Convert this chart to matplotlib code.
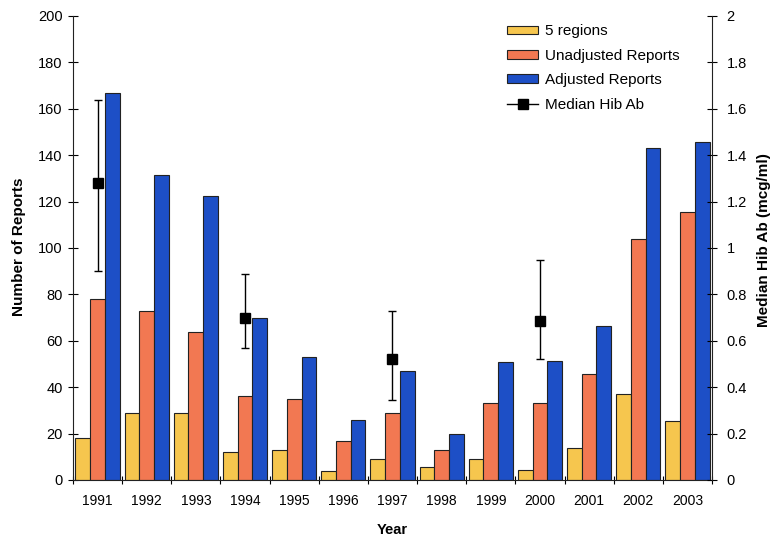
import matplotlib
matplotlib.use("Agg")
import matplotlib.pyplot as plt
import numpy as np
from matplotlib.ticker import FuncFormatter
from matplotlib.lines import Line2D

plt.rcParams['font.family'] = ['Liberation Sans', 'DejaVu Sans']

years = ["1991", "1992", "1993", "1994", "1995", "1996", "1997",
         "1998", "1999", "2000", "2001", "2002", "2003"]
five_regions = [18, 29, 29, 12, 13, 4, 9, 5.5, 9, 4.5, 14, 37, 25.5]
unadjusted = [78, 73, 64, 36, 35, 17, 29, 13, 33, 33, 45.5, 104, 115.5]
adjusted = [167, 131.5, 122.5, 70, 53, 26, 47, 20, 51, 51.5, 66.5, 143, 145.5]

hib_years = ["1991", "1994", "1997", "2000"]
hib_median = [1.28, 0.70, 0.52, 0.685]
hib_low = [0.90, 0.57, 0.345, 0.52]
hib_high = [1.64, 0.89, 0.73, 0.95]

c_yellow = "#F6C64E"
c_orange = "#F27852"
c_blue = "#1D4FC6"

fig = plt.figure(figsize=(7.73, 5.42), dpi=100)
ax = fig.add_axes([0.0944, 0.1144, 0.8267, 0.8561])

x = np.arange(len(years))
w = 0.3
ax.bar(x - w, five_regions, w, color=c_yellow, edgecolor="#222222", linewidth=0.8, label="5 regions")
ax.bar(x, unadjusted, w, color=c_orange, edgecolor="#222222", linewidth=0.8, label="Unadjusted Reports")
ax.bar(x + w, adjusted, w, color=c_blue, edgecolor="#222222", linewidth=0.8, label="Adjusted Reports")

ax.set_xlim(-0.5, len(years) - 0.5)
ax.set_ylim(0, 200)
ax.set_yticks(np.arange(0, 201, 20))
ax.set_xticks(np.arange(-0.5, len(years), 1.0))
ax.set_xticklabels([])
ax.set_xticks(x, minor=True)
ax.set_xticklabels(years, minor=True)
ax.tick_params(axis="x", which="minor", length=0, pad=10, labelsize=10)
ax.tick_params(axis="x", which="major", direction="inout", length=6, width=0.8)
ax.tick_params(axis="y", direction="inout", length=7, width=0.8, labelsize=10.5, pad=4)
ax.spines["top"].set_visible(False)
ax.spines["right"].set_visible(False)
for s in ("left", "bottom"):
    ax.spines[s].set_linewidth(0.8)
    ax.spines[s].set_color("#222222")

ax.set_ylabel("Number of Reports", fontsize=11, fontweight="bold")
ax.yaxis.set_label_coords(-0.073, 0.503)
ax.set_xlabel("Year", fontsize=10.5, fontweight="bold", labelpad=11)

ax2 = ax.twinx()
ax2.set_ylim(0, 2)
ax2.set_yticks(np.arange(0, 2.01, 0.2))
ax2.yaxis.set_major_formatter(FuncFormatter(lambda v, p: f"{v:g}"))
ax2.tick_params(axis="y", direction="inout", length=7, width=0.8, labelsize=10.5, pad=7)
ax2.spines["top"].set_visible(False)
ax2.spines["left"].set_visible(False)
ax2.spines["bottom"].set_visible(False)
ax2.spines["right"].set_linewidth(0.8)
ax2.spines["right"].set_color("#222222")
ax2.set_ylabel("Median Hib Ab (mcg/ml)", fontsize=11, fontweight="bold")
ax2.yaxis.set_label_coords(1.071, 0.517)

hx = [years.index(y) for y in hib_years]
med = np.array(hib_median)
yerr = [med - np.array(hib_low), np.array(hib_high) - med]
ax2.errorbar(hx, hib_median, yerr=yerr, fmt="s", color="black", ecolor="black",
             markersize=7, elinewidth=1.0, capsize=3, capthick=1.0,
             label="Median Hib Ab")

h1, l1 = ax.get_legend_handles_labels()
hib_handle = Line2D([], [], color="black", marker="s", markersize=7, linewidth=1.0)
ax2.legend(h1 + [hib_handle], l1 + ["Median Hib Ab"], loc="upper left",
           bbox_to_anchor=(0.67, 0.995), frameon=False, fontsize=11,
           handlelength=2.0, handleheight=0.5, handletextpad=0.45,
           labelspacing=0.68, borderaxespad=0)

fig.savefig("out.png", dpi=100)
